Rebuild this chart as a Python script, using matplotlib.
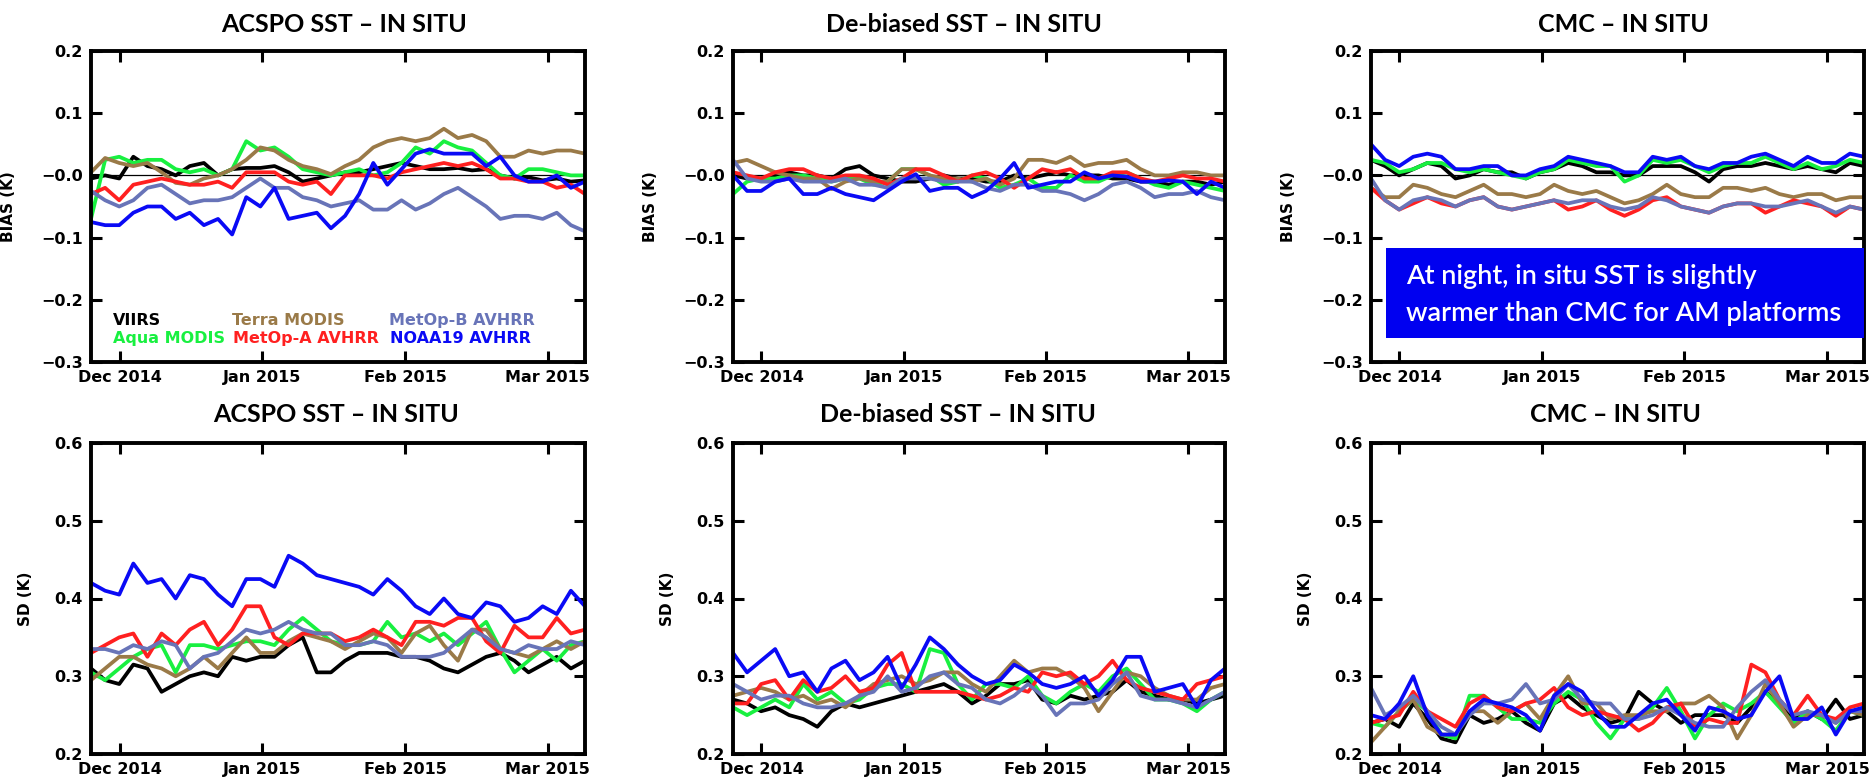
import numpy as np
import matplotlib
matplotlib.use('Agg')
import matplotlib.pyplot as plt
from matplotlib.patches import Rectangle

# ---------------- data ----------------
month_ticks = [0, 1, 2, 3]
month_labels = ['Dec 2014', 'Jan 2015', 'Feb 2015', 'Mar 2015']
# sampling dates in month units (Dec 1 2014 = 0), ~3-day spacing, Nov 25 .. Mar 8
x_dates = np.linspace(-0.2, 3.26, 36)

sensors = ['VIIRS', 'Aqua MODIS', 'Terra MODIS', 'MetOp-A AVHRR', 'MetOp-B AVHRR', 'NOAA19 AVHRR']
colors = ['#000000', '#18F040', '#9A7A48', '#FF2020', '#6874B8', '#0A0AF5']

bias_ticks = [-0.3, -0.2, -0.1, 0.0, 0.1, 0.2]
bias_ticklabels = ['\u22120.3', '\u22120.2', '\u22120.1', '\u22120.0', '0.1', '0.2']
sd_ticks = [0.2, 0.3, 0.4, 0.5, 0.6]
sd_ticklabels = ['0.2', '0.3', '0.4', '0.5', '0.6']

# ACSPO SST - in situ, bias
acspo_bias_viirs = [-0.005, 0.0, -0.005, 0.03, 0.015, 0.01, 0.0, 0.015, 0.02, 0.0, 0.01, 0.012, 0.012, 0.015, 0.005, -0.01, -0.005, 0.0, 0.005, 0.005, 0.01, 0.015, 0.02, 0.015, 0.01, 0.01, 0.012, 0.008, 0.01, 0.0, -0.005, -0.003, -0.008, -0.005, -0.01, -0.008]
acspo_bias_aqua = [-0.07, 0.025, 0.03, 0.02, 0.025, 0.025, 0.01, 0.005, 0.01, 0.0, 0.01, 0.055, 0.04, 0.045, 0.03, 0.01, 0.005, 0.0, 0.005, 0.01, 0.0, 0.005, 0.02, 0.045, 0.035, 0.055, 0.045, 0.04, 0.02, 0.0, -0.005, 0.01, 0.01, 0.005, 0.0, 0.0]
acspo_bias_terra = [0.005, 0.028, 0.02, 0.015, 0.02, 0.005, -0.012, -0.015, -0.005, 0.0, 0.01, 0.025, 0.045, 0.04, 0.025, 0.015, 0.01, 0.002, 0.015, 0.025, 0.045, 0.055, 0.06, 0.055, 0.06, 0.075, 0.06, 0.065, 0.055, 0.03, 0.03, 0.04, 0.035, 0.04, 0.04, 0.035]
acspo_bias_metopa = [-0.03, -0.02, -0.04, -0.015, -0.01, -0.005, -0.01, -0.015, -0.015, -0.01, -0.02, 0.005, 0.005, 0.005, -0.01, -0.015, -0.01, -0.03, 0.0, 0.0, 0.0, -0.005, 0.005, 0.01, 0.015, 0.02, 0.015, 0.02, 0.01, -0.005, -0.005, -0.01, -0.01, -0.02, -0.015, -0.03]
acspo_bias_metopb = [-0.025, -0.04, -0.05, -0.04, -0.02, -0.015, -0.03, -0.045, -0.04, -0.04, -0.035, -0.02, -0.005, -0.02, -0.02, -0.035, -0.04, -0.05, -0.045, -0.04, -0.055, -0.055, -0.04, -0.055, -0.045, -0.03, -0.02, -0.035, -0.05, -0.07, -0.065, -0.065, -0.07, -0.06, -0.08, -0.09]
acspo_bias_noaa19 = [-0.075, -0.08, -0.08, -0.06, -0.05, -0.05, -0.07, -0.06, -0.08, -0.07, -0.095, -0.035, -0.05, -0.02, -0.07, -0.065, -0.06, -0.085, -0.065, -0.03, 0.02, -0.015, 0.01, 0.035, 0.042, 0.035, 0.035, 0.035, 0.015, 0.03, 0.0, -0.01, -0.01, 0.0, -0.02, -0.01]

# De-biased SST - in situ, bias
debias_bias_viirs = [0.0, -0.005, -0.005, 0.0, 0.005, 0.0, 0.0, -0.005, 0.01, 0.015, 0.0, -0.005, -0.01, -0.01, -0.005, 0.0, -0.005, -0.005, -0.01, -0.01, 0.0, -0.005, 0.0, 0.005, 0.0, 0.0, 0.0, -0.005, -0.005, -0.01, -0.01, -0.015, -0.01, -0.01, -0.015, -0.01]
debias_bias_aqua = [-0.03, -0.01, -0.005, -0.005, 0.0, 0.0, -0.005, -0.01, -0.005, -0.005, -0.015, -0.01, 0.01, 0.01, 0.0, -0.015, -0.01, 0.0, -0.005, -0.02, -0.015, -0.005, -0.02, -0.02, 0.0, -0.01, -0.01, 0.0, 0.005, -0.005, -0.015, -0.02, -0.01, -0.015, -0.02, -0.025]
debias_bias_terra = [0.02, 0.025, 0.015, 0.005, 0.0, -0.005, -0.005, -0.022, -0.01, -0.005, -0.01, -0.01, 0.01, 0.01, 0.0, -0.005, -0.005, -0.01, -0.005, -0.015, -0.005, 0.025, 0.025, 0.02, 0.03, 0.015, 0.02, 0.02, 0.025, 0.01, 0.0, 0.0, 0.005, 0.005, 0.0, 0.0]
debias_bias_metopa = [0.005, 0.0, -0.005, 0.005, 0.01, 0.01, 0.0, -0.005, 0.0, 0.0, -0.005, -0.015, -0.005, 0.01, 0.01, 0.0, -0.01, 0.0, 0.005, -0.005, -0.02, -0.005, 0.01, 0.005, 0.01, -0.005, -0.005, 0.005, 0.005, -0.005, -0.01, -0.005, 0.0, -0.005, -0.005, -0.01]
debias_bias_metopb = [0.025, -0.005, -0.01, -0.01, -0.005, -0.01, -0.01, -0.01, -0.005, -0.015, -0.015, -0.02, -0.005, -0.005, -0.005, -0.01, -0.01, -0.01, -0.02, -0.025, -0.015, -0.015, -0.025, -0.025, -0.03, -0.04, -0.03, -0.015, -0.01, -0.02, -0.035, -0.03, -0.03, -0.025, -0.035, -0.04]
debias_bias_noaa19 = [0.0, -0.025, -0.025, -0.01, -0.005, -0.03, -0.03, -0.02, -0.03, -0.035, -0.04, -0.025, -0.01, 0.002, -0.025, -0.02, -0.02, -0.035, -0.025, -0.005, 0.02, -0.02, -0.015, -0.01, -0.01, 0.005, -0.005, 0.0, -0.002, -0.01, -0.01, -0.008, -0.01, -0.03, -0.01, -0.02]

# CMC - in situ, bias
cmc_bias_viirs = [0.025, 0.015, 0.0, 0.01, 0.02, 0.015, -0.005, 0.0, 0.01, 0.005, 0.005, -0.005, 0.005, 0.01, 0.02, 0.015, 0.005, 0.005, 0.0, 0.0, 0.015, 0.015, 0.015, 0.005, -0.01, 0.01, 0.015, 0.015, 0.02, 0.015, 0.01, 0.015, 0.01, 0.005, 0.02, 0.015]
cmc_bias_aqua = [0.025, 0.02, 0.005, 0.01, 0.02, 0.02, 0.01, 0.005, 0.01, 0.005, 0.0, -0.005, 0.005, 0.01, 0.025, 0.02, 0.015, 0.015, -0.01, 0.0, 0.025, 0.02, 0.025, 0.015, 0.005, 0.015, 0.02, 0.02, 0.03, 0.02, 0.01, 0.02, 0.01, 0.015, 0.025, 0.02]
cmc_bias_terra = [-0.02, -0.035, -0.035, -0.015, -0.02, -0.03, -0.035, -0.025, -0.015, -0.03, -0.03, -0.035, -0.03, -0.015, -0.025, -0.03, -0.025, -0.035, -0.045, -0.04, -0.03, -0.015, -0.03, -0.035, -0.035, -0.02, -0.02, -0.025, -0.02, -0.03, -0.035, -0.03, -0.03, -0.04, -0.035, -0.035]
cmc_bias_metopa = [-0.02, -0.04, -0.055, -0.045, -0.035, -0.045, -0.05, -0.04, -0.035, -0.05, -0.055, -0.05, -0.045, -0.04, -0.055, -0.05, -0.04, -0.055, -0.065, -0.055, -0.04, -0.035, -0.05, -0.055, -0.06, -0.05, -0.045, -0.045, -0.06, -0.05, -0.04, -0.045, -0.05, -0.065, -0.05, -0.055]
cmc_bias_metopb = [-0.005, -0.04, -0.055, -0.04, -0.035, -0.04, -0.05, -0.04, -0.035, -0.05, -0.055, -0.05, -0.045, -0.04, -0.045, -0.04, -0.04, -0.05, -0.055, -0.05, -0.035, -0.04, -0.05, -0.055, -0.06, -0.05, -0.045, -0.045, -0.05, -0.05, -0.045, -0.04, -0.05, -0.06, -0.05, -0.055]
cmc_bias_noaa19 = [0.05, 0.025, 0.015, 0.03, 0.035, 0.03, 0.01, 0.01, 0.015, 0.015, 0.0, 0.0, 0.01, 0.015, 0.03, 0.025, 0.02, 0.015, 0.005, 0.005, 0.03, 0.025, 0.03, 0.015, 0.01, 0.02, 0.02, 0.03, 0.035, 0.025, 0.015, 0.03, 0.02, 0.02, 0.035, 0.03]

# ACSPO SST - in situ, SD
acspo_sd_viirs = [0.31, 0.295, 0.29, 0.315, 0.31, 0.28, 0.29, 0.30, 0.305, 0.30, 0.325, 0.32, 0.325, 0.325, 0.34, 0.35, 0.305, 0.305, 0.32, 0.33, 0.33, 0.33, 0.325, 0.325, 0.32, 0.31, 0.305, 0.315, 0.325, 0.33, 0.32, 0.305, 0.315, 0.325, 0.31, 0.32]
acspo_sd_aqua = [0.305, 0.295, 0.31, 0.325, 0.335, 0.34, 0.305, 0.34, 0.34, 0.335, 0.34, 0.345, 0.345, 0.34, 0.36, 0.375, 0.36, 0.345, 0.34, 0.34, 0.345, 0.37, 0.35, 0.355, 0.345, 0.355, 0.34, 0.355, 0.37, 0.335, 0.305, 0.32, 0.335, 0.32, 0.34, 0.345]
acspo_sd_terra = [0.295, 0.31, 0.325, 0.325, 0.315, 0.31, 0.30, 0.31, 0.325, 0.31, 0.33, 0.35, 0.33, 0.33, 0.345, 0.355, 0.35, 0.345, 0.335, 0.345, 0.355, 0.35, 0.33, 0.355, 0.365, 0.34, 0.32, 0.36, 0.36, 0.335, 0.33, 0.325, 0.335, 0.345, 0.335, 0.345]
acspo_sd_metopa = [0.33, 0.34, 0.35, 0.355, 0.325, 0.355, 0.34, 0.36, 0.37, 0.34, 0.36, 0.39, 0.39, 0.35, 0.34, 0.355, 0.355, 0.355, 0.345, 0.35, 0.36, 0.35, 0.34, 0.37, 0.37, 0.365, 0.375, 0.375, 0.345, 0.33, 0.365, 0.35, 0.35, 0.375, 0.355, 0.36]
acspo_sd_metopb = [0.335, 0.335, 0.33, 0.34, 0.335, 0.345, 0.34, 0.31, 0.325, 0.33, 0.345, 0.36, 0.355, 0.36, 0.37, 0.36, 0.355, 0.355, 0.34, 0.34, 0.345, 0.34, 0.325, 0.325, 0.325, 0.33, 0.345, 0.36, 0.35, 0.335, 0.33, 0.34, 0.335, 0.335, 0.345, 0.34]
acspo_sd_noaa19 = [0.42, 0.41, 0.405, 0.445, 0.42, 0.425, 0.40, 0.43, 0.425, 0.405, 0.39, 0.425, 0.425, 0.415, 0.455, 0.445, 0.43, 0.425, 0.42, 0.415, 0.405, 0.425, 0.41, 0.39, 0.38, 0.40, 0.38, 0.375, 0.395, 0.39, 0.37, 0.375, 0.39, 0.38, 0.41, 0.39]

# De-biased SST - in situ, SD
debias_sd_viirs = [0.27, 0.265, 0.255, 0.26, 0.25, 0.245, 0.235, 0.255, 0.265, 0.26, 0.265, 0.27, 0.275, 0.28, 0.285, 0.29, 0.28, 0.265, 0.275, 0.29, 0.29, 0.295, 0.27, 0.265, 0.275, 0.27, 0.275, 0.28, 0.295, 0.28, 0.275, 0.27, 0.27, 0.265, 0.27, 0.275]
debias_sd_aqua = [0.26, 0.25, 0.26, 0.27, 0.26, 0.29, 0.27, 0.28, 0.265, 0.27, 0.285, 0.29, 0.29, 0.28, 0.335, 0.33, 0.29, 0.27, 0.29, 0.29, 0.285, 0.30, 0.275, 0.265, 0.28, 0.29, 0.28, 0.30, 0.31, 0.29, 0.27, 0.27, 0.265, 0.255, 0.27, 0.28]
debias_sd_terra = [0.275, 0.28, 0.285, 0.28, 0.27, 0.275, 0.265, 0.27, 0.26, 0.275, 0.29, 0.295, 0.30, 0.29, 0.295, 0.305, 0.305, 0.29, 0.28, 0.30, 0.32, 0.305, 0.31, 0.31, 0.30, 0.285, 0.255, 0.28, 0.305, 0.30, 0.285, 0.275, 0.27, 0.27, 0.285, 0.29]
debias_sd_metopa = [0.265, 0.265, 0.29, 0.295, 0.27, 0.295, 0.28, 0.285, 0.30, 0.28, 0.285, 0.315, 0.33, 0.28, 0.28, 0.28, 0.28, 0.275, 0.27, 0.275, 0.285, 0.28, 0.305, 0.30, 0.305, 0.29, 0.30, 0.32, 0.295, 0.285, 0.28, 0.275, 0.27, 0.29, 0.295, 0.30]
debias_sd_metopb = [0.29, 0.28, 0.27, 0.275, 0.275, 0.265, 0.26, 0.26, 0.265, 0.275, 0.28, 0.30, 0.28, 0.285, 0.30, 0.305, 0.29, 0.285, 0.27, 0.265, 0.275, 0.29, 0.275, 0.25, 0.265, 0.265, 0.27, 0.29, 0.305, 0.275, 0.27, 0.27, 0.265, 0.26, 0.27, 0.28]
debias_sd_noaa19 = [0.33, 0.305, 0.32, 0.335, 0.30, 0.305, 0.28, 0.31, 0.32, 0.295, 0.305, 0.325, 0.285, 0.315, 0.35, 0.335, 0.315, 0.30, 0.29, 0.295, 0.315, 0.305, 0.29, 0.285, 0.29, 0.30, 0.275, 0.295, 0.325, 0.325, 0.28, 0.285, 0.29, 0.26, 0.295, 0.31]

# CMC - in situ, SD
cmc_sd_viirs = [0.24, 0.245, 0.235, 0.265, 0.245, 0.22, 0.215, 0.25, 0.24, 0.245, 0.255, 0.24, 0.23, 0.265, 0.275, 0.26, 0.25, 0.24, 0.245, 0.28, 0.265, 0.255, 0.24, 0.25, 0.25, 0.25, 0.24, 0.26, 0.28, 0.265, 0.245, 0.255, 0.245, 0.27, 0.245, 0.25]
cmc_sd_aqua = [0.24, 0.235, 0.255, 0.27, 0.255, 0.225, 0.22, 0.275, 0.275, 0.26, 0.245, 0.245, 0.24, 0.265, 0.28, 0.27, 0.24, 0.22, 0.245, 0.245, 0.26, 0.285, 0.255, 0.22, 0.25, 0.265, 0.255, 0.265, 0.28, 0.26, 0.24, 0.255, 0.245, 0.23, 0.255, 0.25]
cmc_sd_terra = [0.215, 0.235, 0.255, 0.27, 0.235, 0.225, 0.225, 0.255, 0.255, 0.24, 0.255, 0.265, 0.245, 0.275, 0.30, 0.265, 0.265, 0.245, 0.25, 0.25, 0.255, 0.255, 0.265, 0.265, 0.275, 0.26, 0.22, 0.25, 0.29, 0.265, 0.235, 0.25, 0.25, 0.24, 0.255, 0.25]
cmc_sd_metopa = [0.24, 0.245, 0.25, 0.28, 0.255, 0.245, 0.235, 0.265, 0.275, 0.26, 0.255, 0.265, 0.27, 0.285, 0.26, 0.25, 0.255, 0.25, 0.245, 0.23, 0.24, 0.26, 0.265, 0.235, 0.245, 0.24, 0.24, 0.315, 0.305, 0.27, 0.25, 0.275, 0.25, 0.245, 0.26, 0.265]
cmc_sd_metopb = [0.285, 0.25, 0.26, 0.275, 0.255, 0.235, 0.225, 0.25, 0.265, 0.265, 0.27, 0.29, 0.265, 0.27, 0.29, 0.27, 0.265, 0.265, 0.245, 0.245, 0.25, 0.26, 0.25, 0.24, 0.235, 0.235, 0.26, 0.28, 0.295, 0.27, 0.25, 0.255, 0.25, 0.24, 0.255, 0.255]
cmc_sd_noaa19 = [0.25, 0.245, 0.265, 0.30, 0.25, 0.225, 0.225, 0.255, 0.27, 0.265, 0.26, 0.25, 0.23, 0.275, 0.29, 0.28, 0.255, 0.235, 0.235, 0.25, 0.265, 0.27, 0.25, 0.23, 0.26, 0.255, 0.245, 0.25, 0.28, 0.30, 0.245, 0.245, 0.26, 0.225, 0.255, 0.26]

panel_titles = ['ACSPO SST \u2013 IN SITU', 'De-biased SST \u2013 IN SITU', 'CMC \u2013 IN SITU']
note_lines = ['At night, in situ SST is slightly', 'warmer than CMC for AM platforms']

panels = [
    [acspo_bias_viirs, acspo_bias_aqua, acspo_bias_terra, acspo_bias_metopa, acspo_bias_metopb, acspo_bias_noaa19],
    [debias_bias_viirs, debias_bias_aqua, debias_bias_terra, debias_bias_metopa, debias_bias_metopb, debias_bias_noaa19],
    [cmc_bias_viirs, cmc_bias_aqua, cmc_bias_terra, cmc_bias_metopa, cmc_bias_metopb, cmc_bias_noaa19],
    [acspo_sd_viirs, acspo_sd_aqua, acspo_sd_terra, acspo_sd_metopa, acspo_sd_metopb, acspo_sd_noaa19],
    [debias_sd_viirs, debias_sd_aqua, debias_sd_terra, debias_sd_metopa, debias_sd_metopb, debias_sd_noaa19],
    [cmc_sd_viirs, cmc_sd_aqua, cmc_sd_terra, cmc_sd_metopa, cmc_sd_metopb, cmc_sd_noaa19],
]

# ---------------- layout ----------------
W, H = 1873, 778
fig = plt.figure(figsize=(W / 100, H / 100), dpi=100)
fig.patch.set_facecolor('white')

col_left = [91, 733, 1371]
col_w = [494, 492, 493]
row_top = [51, 443]
row_h = 311
title_x = [[344, 964, 1623], [336, 958, 1615]]
title_y = [24, 414]

for r in range(2):
    for c in range(3):
        ax = fig.add_axes([col_left[c] / W, 1 - (row_top[r] + row_h) / H, col_w[c] / W, row_h / H])
        data = panels[r * 3 + c]
        for vals, col in zip(data, colors):
            ax.plot(x_dates, vals, color=col, lw=2.7, solid_joinstyle='round')
        ax.set_xlim(-0.2, 3.26)
        ax.set_xticks(month_ticks)
        ax.set_xticklabels(month_labels)
        if r == 0:
            ax.axhline(0, color='black', lw=0.9, zorder=1)
            ax.set_ylim(-0.3, 0.2)
            ax.set_yticks(bias_ticks)
            ax.set_yticklabels(bias_ticklabels)
            ax.set_ylabel('BIAS (K)', fontsize=11, fontweight='bold', family='DejaVu Sans')
            ax.yaxis.set_label_coords(-0.152, 0.5)
        else:
            ax.set_ylim(0.2, 0.6)
            ax.set_yticks(sd_ticks)
            ax.set_yticklabels(sd_ticklabels)
            ax.set_ylabel('SD (K)', fontsize=11, fontweight='bold', family='DejaVu Sans')
            ax.yaxis.set_label_coords(-0.118, 0.5)
        for lab in ax.get_xticklabels() + ax.get_yticklabels():
            lab.set_fontfamily('DejaVu Sans')
            lab.set_fontweight('bold')
            lab.set_fontsize(11.5)
        ax.tick_params(axis='both', direction='in', length=8, width=2.2,
                       top=True, right=True, pad=6)
        for sp in ax.spines.values():
            sp.set_linewidth(2.8)
        fig.text(title_x[r][c] / W, 1 - title_y[r] / H, panel_titles[c],
                 ha='center', va='center', fontsize=18, fontweight='bold', family='Lato')

        if r == 0 and c == 0:
            leg_pos = [(0.0445, 0.135), (0.0445, 0.074), (0.286, 0.135),
                       (0.2875, 0.074), (0.604, 0.135), (0.605, 0.074)]
            for name, col, (lx, ly) in zip(sensors, colors, leg_pos):
                ax.text(lx, ly, name, color=col, transform=ax.transAxes,
                        ha='left', va='center', fontsize=11.5, fontweight='bold',
                        family='DejaVu Sans')
        if r == 0 and c == 2:
            ax.add_patch(Rectangle((0.03, 0.077), 0.97, 0.29, transform=ax.transAxes,
                                   facecolor='#0000F0', edgecolor='none', zorder=5))
            ax.text(0.072, 0.275, note_lines[0], transform=ax.transAxes, color='white',
                    ha='left', va='center', fontsize=19.5, fontweight='semibold', family='Lato', zorder=6)
            ax.text(0.072, 0.155, note_lines[1], transform=ax.transAxes, color='white',
                    ha='left', va='center', fontsize=19.5, fontweight='semibold', family='Lato', zorder=6)

fig.savefig('out.png', dpi=100, facecolor='white')
